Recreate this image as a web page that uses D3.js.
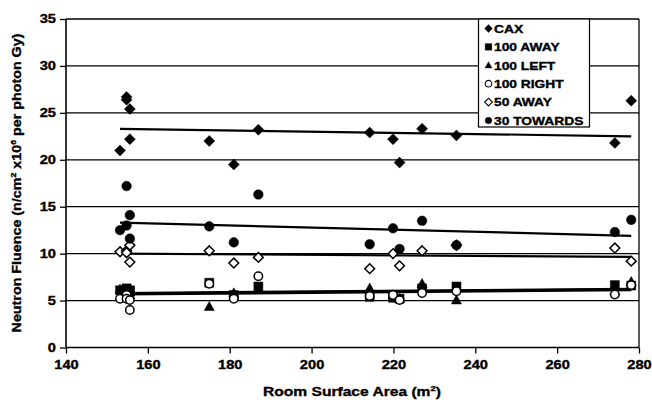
<!DOCTYPE html>
<html>
<head>
<meta charset="utf-8">
<script src="https://cdn.jsdelivr.net/npm/d3@7"></script>
<style>
  html, body { margin: 0; padding: 0; background: #fff; }
  svg { display: block; }
  text { font-family: Arial, "Liberation Sans", sans-serif; font-weight: bold; fill: #000; stroke: #000; stroke-width: 0.35px; }
</style>
</head>
<body>
<svg id="chart" width="652" height="408"></svg>
<script>
// ---- data ----
const area      = [153.2, 154.8, 154.8, 155.6, 155.6, 175.0, 181.0, 187.0, 214.2, 219.9, 221.5, 227.0, 235.4, 274.1, 278.1];
const cax       = [21.0, 26.7, 26.4, 25.4, 22.2, 22.0, 19.5, 23.2, 22.9, 22.2, 19.7, 23.3, 22.6, 21.8, 26.3];
const away100   = [6.1, 6.3, 5.9, 6.1, 6.0, 6.9, 5.6, 6.5, 5.4, 5.3, 5.2, 6.3, 6.5, 6.65, 6.6];
const left100   = [6.2, 5.8, 6.2, 5.9, 5.6, 4.35, 5.8, 6.2, 6.3, 5.6, 5.2, 6.8, 5.05, 6.0, 7.0];
const right100  = [5.2, 5.6, 5.2, 5.05, 4.0, 6.8, 5.2, 7.6, 5.5, 5.6, 5.05, 5.8, 6.0, 5.65, 6.65];
const away50    = [10.2, 10.3, 10.1, 10.9, 9.1, 10.3, 9.0, 9.6, 8.4, 10.0, 8.7, 10.3, 10.9, 10.6, 9.2];
const towards30 = [12.5, 17.2, 13.0, 14.1, 11.6, 12.9, 11.2, 16.3, 11.0, 12.7, 10.5, 13.5, 10.9, 12.3, 13.6];

const seriesNames = ["CAX", "100 AWAY", "100 LEFT", "100 RIGHT", "50 AWAY", "30 TOWARDS"];
const seriesShapes = ["diamond", "square", "triangle", "circle", "diamond", "circle"];
const seriesFilled = [true, true, true, false, false, true];
const seriesValues = [cax, away100, left100, right100, away50, towards30];
// linear trendline end values (at min and max area)
const trendStart = [23.3, 5.8, 5.75, 5.65, 10.0, 13.3];
const trendEnd   = [22.5, 6.25, 6.2, 6.1, 9.65, 11.9];

const xTicks = [140, 160, 180, 200, 220, 240, 260, 280];
const yTicks = [0, 5, 10, 15, 20, 25, 30, 35];

// ---- layout ----
const svg = d3.select("#chart");
const L = 66, R = 639, T = 19, B = 347.5;
const SX = 1.22; // horizontal stretch of the reference lettering
const x = d3.scaleLinear().domain([140, 280]).range([L, R]);
const y = d3.scaleLinear().domain([0, 35]).range([B, T]);

// gridlines
svg.append("g").selectAll("line").data(yTicks.filter(d => d > 0)).join("line")
  .attr("x1", L).attr("x2", R).attr("y1", d => y(d)).attr("y2", d => y(d))
  .attr("stroke", "#000").attr("stroke-width", 1.3);

// right border
svg.append("line").attr("x1", R).attr("x2", R).attr("y1", T).attr("y2", B)
  .attr("stroke", "#000").attr("stroke-width", 1.3);

// axes
const yAxis = d3.axisLeft(y).tickValues(yTicks).tickSize(6).tickPadding(0).tickFormat(d3.format("d"));
const gy = svg.append("g").attr("transform", `translate(${L},0)`).call(yAxis);
const xAxis = d3.axisBottom(x).tickValues(xTicks).tickSize(6).tickPadding(7).tickFormat(d3.format("d"));
const gx = svg.append("g").attr("transform", `translate(0,${B})`).call(xAxis);
[gx, gy].forEach(g => {
  g.select(".domain").attr("stroke", "#000").attr("stroke-width", 1.6);
  g.selectAll(".tick line").attr("stroke", "#000").attr("stroke-width", 1.3);
  g.selectAll(".tick text").style("font-size", "12px").style("font-weight", "bold")
    .style("font-family", "Arial, 'Liberation Sans', sans-serif").attr("fill", "#000");
});
gx.selectAll(".tick text").attr("transform", `scale(${SX},1)`);
gy.selectAll(".tick text").attr("x", -10 / SX).attr("transform", `scale(${SX},1)`);
gy.select(".domain").attr("d", `M0,${T}V${B}`);
gx.select(".domain").attr("d", `M${L},0H${R}`);

// trendlines
const xMin = d3.min(area), xMax = d3.max(area);
seriesNames.forEach((n, i) => {
  svg.append("line")
    .attr("x1", x(xMin)).attr("x2", x(xMax))
    .attr("y1", y(trendStart[i])).attr("y2", y(trendEnd[i]))
    .attr("stroke", "#000").attr("stroke-width", 2.2);
});

// marker paths
function markerPath(shape, s) {
  if (shape === "diamond") return `M0,${-s}L${s},0L0,${s}L${-s},0Z`;
  if (shape === "square") return `M${-s},${-s}H${s}V${s}H${-s}Z`;
  if (shape === "triangle") return `M0,${-s * 1.1}L${s * 1.05},${s * 0.8}L${-s * 1.05},${s * 0.8}Z`;
  const p = d3.path(); p.arc(0, 0, s, 0, 2 * Math.PI); return p.toString();
}
const markerSize = { diamond: 5.5, square: 4.5, triangle: 4.8, circle: 4.8 };

seriesNames.forEach((n, i) => {
  const shape = seriesShapes[i];
  const pts = area.map((a, k) => ({ a, v: seriesValues[i][k] }));
  svg.append("g").selectAll("path").data(pts).join("path")
    .attr("transform", d => `translate(${x(d.a)},${y(d.v)})`)
    .attr("d", markerPath(shape, seriesFilled[i] ? markerSize[shape] : markerSize[shape] - 0.6))
    .attr("fill", seriesFilled[i] ? "#000" : "#fff")
    .attr("stroke", "#000").attr("stroke-width", seriesFilled[i] ? 0.5 : 1.5);
});

// legend
const lg = svg.append("g");
lg.append("rect").attr("x", 478.5).attr("y", 19).attr("width", 111).attr("height", 108)
  .attr("fill", "#fff").attr("stroke", "#000").attr("stroke-width", 1.2);
seriesNames.forEach((n, i) => {
  const yy = 28.5 + i * 18.4;
  const shape = seriesShapes[i];
  lg.append("path").attr("transform", `translate(488.5,${yy})`)
    .attr("d", markerPath(shape, shape === "diamond" ? 3.9 : 3.3))
    .attr("fill", seriesFilled[i] ? "#000" : "#fff")
    .attr("stroke", "#000").attr("stroke-width", seriesFilled[i] ? 0.4 : 1.1);
  lg.append("text").attr("transform", `translate(494,${yy + 4.2}) scale(1.2,1)`)
    .style("font-size", "11.5px").text(n);
});

// axis titles
svg.append("text").attr("transform", `translate(352,396) scale(${SX - 0.02},1)`).attr("text-anchor", "middle")
  .style("font-size", "13px")
  .html('Room Surface Area (m<tspan dy="-5" style="font-size:8px">2</tspan><tspan dy="5">)</tspan>');
svg.append("text").attr("transform", "translate(21,183) rotate(-90) scale(1.1,1)").attr("text-anchor", "middle")
  .style("font-size", "13px")
  .html('Neutron Fluence (n/cm<tspan dy="-5" style="font-size:8px">2</tspan><tspan dy="5"> x10</tspan><tspan dy="-5" style="font-size:8px">6</tspan><tspan dy="5"> per photon Gy)</tspan>');
</script>
</body>
</html>
